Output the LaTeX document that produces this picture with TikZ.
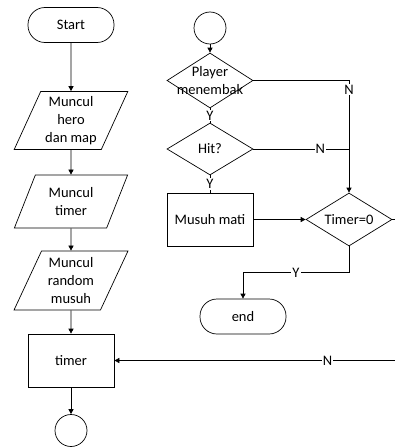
\documentclass[tikz,border=0pt]{standalone}
\usepackage{fontspec}
\setmainfont{Carlito}
\usetikzlibrary{arrows.meta,positioning,shapes.geometric}

\begin{document}
\begin{tikzpicture}[
      x=1pt, y=-1pt,
      line width=0.7pt,
      every node/.style={font=\fontsize{14.5}{18}\selectfont},
      terminal/.style={
         rectangle,
         rounded corners=17pt,
         draw=black,
         minimum width=86pt,
         minimum height=35pt},
      proses/.style={
         rectangle,
         draw=black,
         minimum width=86pt,
         minimum height=53pt},
      masukan/.style={
         trapezium,
         trapezium left angle=65,
         trapezium right angle=115,
         trapezium stretches=true,
         draw=black,
         align=center,
         inner xsep=0pt,
         inner ysep=0pt,
         minimum width=114pt},
      keputusan/.style={
         diamond,
         draw=black,
         inner sep=0pt,
         minimum width=86pt,
         minimum height=54pt},
      konektor/.style={circle, draw=black, inner sep=0pt, minimum size=32pt},
      ket/.style={fill=white, inner sep=1pt},
      panah/.style={-{Triangle[length=5pt,width=5pt]}}
      ]
      \useasboundingbox (0,0) rectangle (395,447);

      % kolom kiri
      \node[terminal] (start) at (71,25) {Start};
      \node[masukan, minimum height=58pt] (hero) at (71,120.5) {Muncul\\hero\\dan map};
      \node[masukan, minimum height=53pt] (waktu) at (71,201.5) {Muncul\\timer};
      \node[masukan, minimum height=59pt] (musuh) at (71,280.5) {Muncul\\random\\musuh};
      \node[proses] (timer) at (71,360.5) {timer};
      \node[konektor] (ujung) at (71,430.5) {};

      % kolom kanan
      \node[konektor] (awal) at (210,28) {};
      \node[keputusan, minimum height=55pt, label={[align=center]center:Player\\menembak}] (tembak) at (210,80.5) {};
      \node[keputusan, minimum height=52pt, label={center:Hit?}] (hit) at (210,149) {};
      \node[proses] (mati) at (210,219.5) {Musuh mati};
      \node[keputusan, minimum height=53pt, label={center:Timer=0}] (nol) at (349,219.5) {};
      \node[terminal] (end) at (243,316.5) {end};

    \foreach \a/\b in {% dari/ke
      start/hero,
      hero/waktu,
      waktu/musuh,
      musuh/timer,
      timer/ujung,
      awal/tembak}
       \draw [panah] (\a.south) -- (\b.north);

    \draw (tembak.south) -- node[ket] {Y} (hit.north);
    \draw (hit.south) -- node[ket] {Y} (mati.north);
    \draw [panah] (mati.east) -- (nol.west);
    \draw [panah] (tembak.east) -| node[ket,pos=0.54] {N} (nol.north);
    \draw (hit.east) -- node[ket,pos=0.7] {N} (hit.east -| nol.north);
    \draw [panah] (nol.south) -- ++(0,26) -| node[ket,pos=0.25] {Y} (end.north);
    \draw [panah] (nol.east) -- ++(18,0) |- node[ket,pos=0.64] {N} (timer.east);

    \end{tikzpicture}
\end{document}
